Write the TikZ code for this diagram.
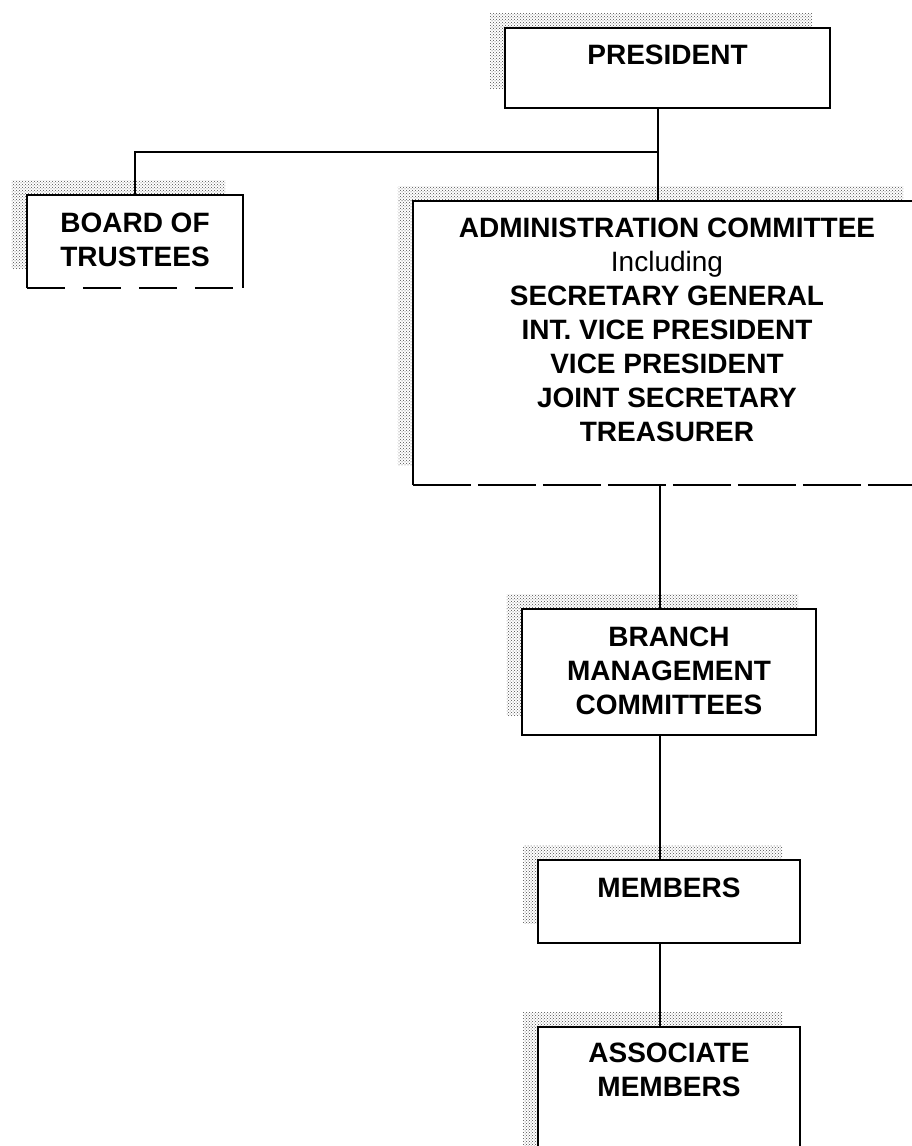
\documentclass[tikz,border=0pt]{standalone}
\usepackage{fontspec}
\setmainfont{Liberation Sans}
\usetikzlibrary{positioning,patterns}
\begin{document}
\begin{tikzpicture}[x=1pt,y=-1pt,
    box/.style={rectangle,draw=none,inner sep=0pt},
    lbl/.style={align=center,inner sep=0pt,
      font=\bfseries\fontsize{28}{34}\selectfont},
    edge/.style={line width=2.5pt},
    grainy/.style={pattern=crosshatch dots,pattern color=black!70}]
  \useasboundingbox (0,0) rectangle (912,1146);
  % boxes
  \node[box,minimum width=325pt,minimum height=80pt]  (pres)   at (667.5,68)  {};
  \node[box,minimum width=216pt,minimum height=93pt]  (board)  at (135,241.5) {};
  \node[box,minimum width=508pt,minimum height=284pt] (admin)  at (667,343)   {};
  \node[box,minimum width=294pt,minimum height=126pt] (branch) at (669,672)   {};
  \node[box,minimum width=262pt,minimum height=83pt]  (memb)   at (669,901.5) {};
  \node[box,minimum width=262pt,minimum height=148pt] (assoc)  at (669,1101)  {};
  % scanned shadow on top and left
  \foreach \b in {pres,board,admin,branch,memb,assoc} {
    \fill[grainy] ([xshift=-15pt]\b.north west) rectangle ([xshift=-18pt,yshift=14pt]\b.north east);
    \fill[grainy] ([xshift=-15pt]\b.north west) rectangle ([yshift=20pt]\b.south west);
  }
  % outlines
  \begin{scope}[edge]
    \draw (pres.south west) rectangle (pres.north east);
    \draw (board.south west) -- (board.north west) -- (board.north east) -- (board.south east);
    \draw[dash pattern=on 38pt off 18pt] (board.south west) -- (board.south east);
    \draw (admin.south west) -- (admin.north west) -- (admin.north east);
    \draw[dash pattern=on 58pt off 7pt] (admin.south west) -- (admin.south east);
    \draw (branch.south west) rectangle (branch.north east);
    \draw (memb.south west) rectangle (memb.north east);
    \draw (assoc.south west) rectangle (assoc.north east);
  \end{scope}
  % texts
  \node[lbl,below=17pt of pres.north]   (pres-t)   {PRESIDENT};
  \node[lbl,below=18pt of board.north]  (board-t)  {BOARD OF\\TRUSTEES};
  \node[lbl,below=17pt of admin.north]  (admin-t)  {ADMINISTRATION COMMITTEE\\{\mdseries Including}\\SECRETARY GENERAL\\INT. VICE PRESIDENT\\VICE PRESIDENT\\JOINT SECRETARY\\TREASURER};
  \node[lbl,below=18pt of branch.north] (branch-t) {BRANCH\\MANAGEMENT\\COMMITTEES};
  \node[lbl,below=18pt of memb.north]   (memb-t)   {MEMBERS};
  \node[lbl,below=16pt of assoc.north]  (assoc-t)  {ASSOCIATE\\MEMBERS};
  % connectors
  \coordinate (split) at (658,152);
  \coordinate (trunk) at (660,0);
  \begin{scope}[edge]
    \draw (pres.south -| split) -- (split) -| (board.north);
    \draw (split) -- (admin.north -| split);
    \draw (admin.south -| trunk) -- (branch.north -| trunk);
    \draw (branch.south -| trunk) -- (memb.north -| trunk);
    \draw (memb.south -| trunk) -- (assoc.north -| trunk);
  \end{scope}
\end{tikzpicture}
\end{document}
